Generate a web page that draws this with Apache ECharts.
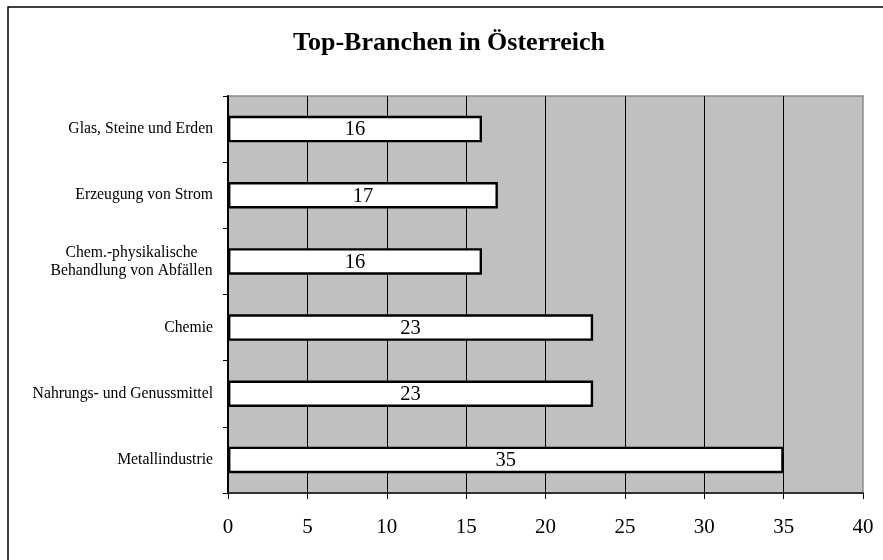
<!DOCTYPE html>
<html>
<head>
<meta charset="utf-8">
<script src="https://cdn.jsdelivr.net/npm/echarts@6/dist/echarts.min.js"></script>
<style>
  html, body { margin: 0; padding: 0; background: #ffffff; }
  #chart { width: 883px; height: 560px; }
</style>
</head>
<body>
<div id="chart"></div>
<script>
// Industry categories, listed bottom to top along the vertical axis
const categories = [
  'Metallindustrie',
  'Nahrungs- und Genussmittel',
  'Chemie',
  'Chem.-physikalische\nBehandlung von Abfällen',
  'Erzeugung von Strom',
  'Glas, Steine und Erden'
];
// Number of companies per industry
const values = [35, 23, 23, 16, 17, 16];
// Value axis range and step
const axisMin = 0;
const axisMax = 40;
const axisStep = 5;
const chartTitle = 'Top-Branchen in Österreich';

const serif = '"Liberation Serif", "Times New Roman", serif';

const chart = echarts.init(document.getElementById('chart'), null, { renderer: 'canvas' });

chart.setOption({
  backgroundColor: '#ffffff',
  animation: false,
  graphic: [{
    type: 'rect',
    silent: true,
    shape: { x: 8, y: 7, width: 900, height: 600 },
    style: { fill: 'none', stroke: '#000000', lineWidth: 1.5 }
  }, {
    type: 'text',
    silent: true,
    x: 449,
    y: 43.5,
    style: {
      text: chartTitle,
      align: 'center',
      verticalAlign: 'middle',
      font: 'bold 26px ' + serif,
      fill: '#000000'
    }
  }],
  grid: {
    left: 228,
    top: 96,
    right: 20,
    bottom: 67,
    show: true,
    backgroundColor: '#c0c0c0',
    borderColor: '#8a8a8a',
    borderWidth: 1.5
  },
  xAxis: {
    type: 'value',
    min: axisMin,
    max: axisMax,
    interval: axisStep,
    axisLine: { show: true, onZero: false, lineStyle: { color: '#303030', width: 2 } },
    axisTick: { show: true, length: 6, lineStyle: { color: '#000000', width: 1 } },
    axisLabel: {
      margin: 24,
      fontFamily: serif,
      fontSize: 21,
      color: '#000000'
    },
    splitLine: {
      show: true,
      showMinLine: false,
      showMaxLine: false,
      lineStyle: { color: '#000000', width: 1 }
    }
  },
  yAxis: {
    type: 'category',
    data: categories,
    axisLine: { show: true, lineStyle: { color: '#000000', width: 2 } },
    axisTick: { show: true, length: 5, lineStyle: { color: '#000000', width: 1 } },
    axisLabel: {
      margin: 15,
      fontFamily: serif,
      fontSize: 15.7,
      lineHeight: 18,
      color: '#000000',
      align: 'right',
      // multi-line names are centred line by line within their block
      formatter: function (name) {
        if (name.indexOf('\n') < 0) return name;
        return name.split('\n').map(function (line) { return '{c|' + line + '}'; }).join('\n');
      },
      rich: {
        c: {
          width: 163,
          align: 'center',
          fontFamily: serif,
          fontSize: 15.7,
          lineHeight: 18,
          color: '#000000'
        }
      }
    },
    splitLine: { show: false }
  },
  series: [{
    type: 'bar',
    data: values,
    barWidth: 26.5,
    itemStyle: {
      color: '#ffffff',
      borderColor: '#000000',
      borderWidth: 2.4
    },
    label: {
      show: true,
      position: 'inside',
      offset: [0, 1],
      fontFamily: serif,
      fontSize: 20.5,
      color: '#000000'
    }
  }]
});
</script>
</body>
</html>
